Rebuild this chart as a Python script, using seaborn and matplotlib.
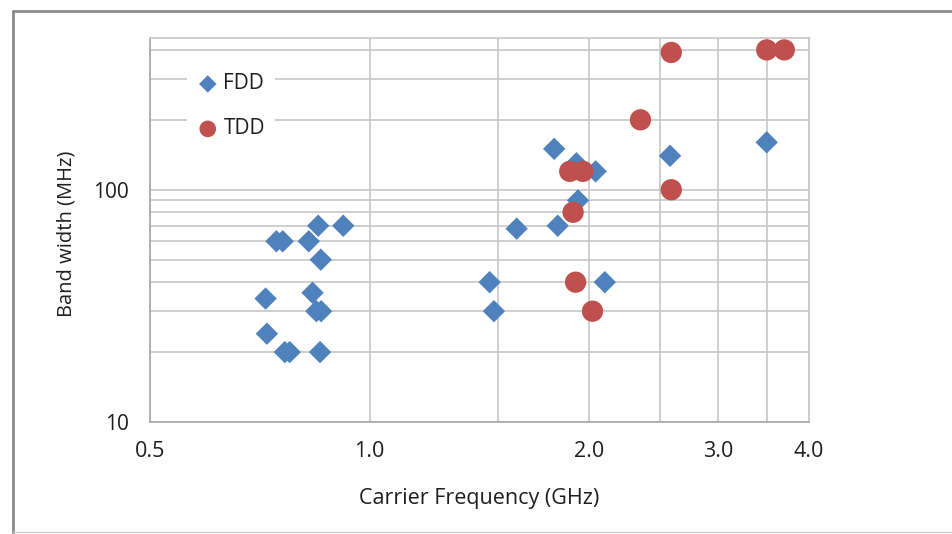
import matplotlib
matplotlib.use("Agg")
import matplotlib.pyplot as plt
import matplotlib.ticker as ticker
from matplotlib.lines import Line2D
import numpy as np
import pandas as pd
import seaborn as sns

# data (GHz, MHz)
fdd_freq = [0.85, 0.92, 0.745, 0.76, 0.825, 0.857, 0.835, 0.72, 0.845, 0.858,
            0.723, 0.765, 0.777, 0.855, 1.79, 1.92, 2.04, 2.58, 3.5, 1.93,
            1.59, 1.81, 1.46, 1.48, 2.10]
fdd_bw = [70, 70, 60, 60, 60, 50, 36, 34, 30, 30,
          24, 20, 20, 20, 150, 130, 120, 140, 160, 90,
          68, 70, 40, 30, 40]
tdd_freq = [2.59, 3.5, 3.7, 2.35, 1.88, 1.96, 2.59, 1.90, 1.915, 2.02]
tdd_bw = [390, 400, 400, 200, 120, 120, 100, 80, 40, 30]

x_ticks = [0.5, 1.0, 2.0, 3.0, 4.0]
x_minor = [1.5, 2.5, 3.5]
y_ticks = [10, 100]
y_minor = [20, 30, 40, 50, 60, 70, 80, 90, 200, 300, 400]

fdd = pd.DataFrame({"freq": fdd_freq, "bw": fdd_bw})
tdd = pd.DataFrame({"freq": tdd_freq, "bw": tdd_bw})

sns.set_style("white")
plt.rcParams['font.family'] = ['Open Sans', 'DejaVu Sans']

fig = plt.figure(figsize=(9.52, 5.34), dpi=100)
ax = fig.add_axes([0.1576, 0.2097, 0.6922, 0.7191])

grid_c = "#c6c6c6"
text_c = "#1e1e1e"
ax.set_xscale("log")
ax.set_yscale("log")
ax.set_xlim(0.5, 4.0)
ax.set_ylim(10, 450)

ax.xaxis.set_major_locator(ticker.FixedLocator(x_ticks))
ax.xaxis.set_minor_locator(ticker.FixedLocator(x_minor))
ax.xaxis.set_major_formatter(ticker.FixedFormatter([f"{v:.1f}" for v in x_ticks]))
ax.xaxis.set_minor_formatter(ticker.NullFormatter())
ax.yaxis.set_major_locator(ticker.FixedLocator(y_ticks))
ax.yaxis.set_minor_locator(ticker.FixedLocator(y_minor))
ax.yaxis.set_major_formatter(ticker.FixedFormatter([str(v) for v in y_ticks]))
ax.yaxis.set_minor_formatter(ticker.NullFormatter())

ax.grid(True, which="both", color=grid_c, linewidth=1.2)
ax.set_axisbelow(True)
for s in ax.spines.values():
    s.set_color(grid_c)
    s.set_linewidth(1.2)
ax.spines["left"].set_color("#a6a6a6")
ax.spines["bottom"].set_color("#a6a6a6")

ax.tick_params(axis="y", which="major", length=6, width=1, color="#a6a6a6",
               labelsize=15, pad=9, labelcolor=text_c)
ax.tick_params(axis="x", which="major", length=0, labelsize=15.5, pad=14,
               labelcolor=text_c)
ax.tick_params(which="minor", length=0)
ax.xaxis.get_major_ticks()[0].tick1line.set_markersize(6)

sns.scatterplot(data=fdd, x="freq", y="bw", marker="D", s=130, color="#4F81BD",
                edgecolor="none", linewidth=0, label="FDD", ax=ax, zorder=3)
sns.scatterplot(data=tdd, x="freq", y="bw", marker="o", s=235, color="#C0504D",
                edgecolor="none", linewidth=0, label="TDD", ax=ax, zorder=4)

ax.set_xlabel("Carrier Frequency (GHz)", fontsize=15.5, color=text_c)
ax.set_ylabel("Band width (MHz)", fontsize=14.5, color=text_c)
ax.xaxis.set_label_coords(0.5, -0.172)
ax.yaxis.set_label_coords(-0.112, 0.49)

leg = ax.legend(loc="upper left", bbox_to_anchor=(0.056, 0.935), borderaxespad=0,
                frameon=True, fancybox=False, facecolor="white", edgecolor="none",
                framealpha=1, fontsize=15, labelspacing=1.15, handletextpad=0.25,
                handlelength=1.0, borderpad=0.5, markerscale=0.78)
for t in leg.get_texts():
    t.set_color(text_c)

# outer chart-area frame
fig.add_artist(Line2D([13 / 952, 13 / 952], [0, 1 - 11 / 534], transform=fig.transFigure,
                      color="#8c8c8c", linewidth=2))
fig.add_artist(Line2D([13 / 952, 1], [1 - 11 / 534, 1 - 11 / 534], transform=fig.transFigure,
                      color="#8c8c8c", linewidth=2))
fig.add_artist(Line2D([13 / 952, 1], [2 / 534, 2 / 534], transform=fig.transFigure,
                      color="#d0d0d0", linewidth=1))

fig.savefig("out.png", dpi=100)
